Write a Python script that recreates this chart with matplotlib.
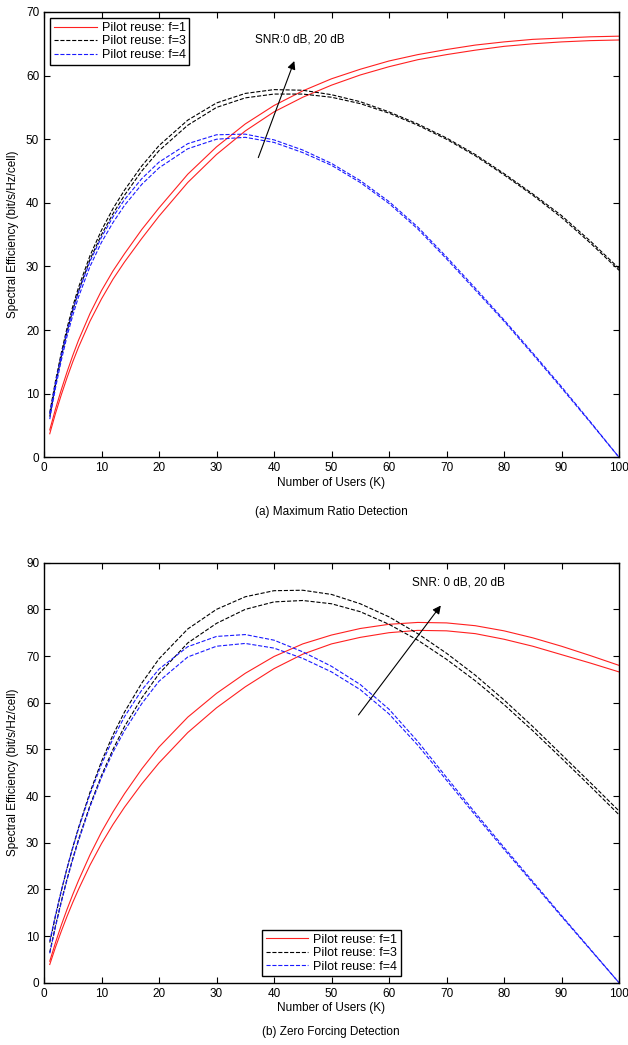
import matplotlib
matplotlib.use("Agg")
import matplotlib.pyplot as plt

plt.rcParams["font.family"] = ["Liberation Sans", "DejaVu Sans"]

# number of users K (sample points)
K = [1, 2, 3, 4, 5, 6, 8, 10, 12, 14, 17, 20, 25, 30, 35, 40, 45, 50,
     55, 60, 65, 70, 75, 80, 85, 90, 95, 100]

# (a) Maximum ratio detection, spectral efficiency (bit/s/Hz/cell)
mr_f1_20db = [4.3, 7.6, 10.6, 13.4, 16.0, 18.4, 22.6, 26.2, 29.3, 32.0, 35.8, 39.2, 44.5, 48.8, 52.4,
              55.3, 57.6, 59.5, 61.0, 62.3, 63.3, 64.1, 64.8, 65.3, 65.7, 65.9, 66.1, 66.2]
mr_f1_0db = [3.7, 6.9, 9.8, 12.5, 15.0, 17.3, 21.4, 24.9, 28.0, 30.7, 34.4, 37.9, 43.2, 47.6, 51.3,
             54.3, 56.6, 58.5, 60.1, 61.4, 62.5, 63.3, 64.0, 64.6, 65.0, 65.3, 65.5, 65.6]
mr_f3_20db = [7.0, 12.0, 16.4, 20.3, 23.7, 26.7, 31.7, 35.7, 39.1, 42.0, 45.8, 49.0, 53.0, 55.7, 57.2,
              57.8, 57.7, 57.0, 55.9, 54.3, 52.4, 50.2, 47.6, 44.6, 41.4, 38.0, 34.0, 29.7]
mr_f3_0db = [6.4, 11.4, 15.8, 19.7, 23.1, 26.1, 31.1, 35.0, 38.3, 41.2, 45.0, 48.2, 52.2, 55.0, 56.5,
             57.1, 57.1, 56.6, 55.6, 54.1, 52.2, 50.0, 47.4, 44.4, 41.2, 37.7, 33.7, 29.4]
mr_f4_20db = [6.8, 11.7, 16.0, 19.8, 23.1, 26.0, 30.8, 34.6, 37.8, 40.5, 43.8, 46.4, 49.3, 50.7, 50.8,
              49.9, 48.3, 46.2, 43.5, 40.2, 36.2, 31.5, 26.6, 21.6, 16.4, 11.1, 5.6, 0.0]
mr_f4_0db = [6.0, 10.9, 15.2, 19.0, 22.3, 25.2, 30.0, 33.8, 36.9, 39.6, 42.9, 45.5, 48.5, 50.0, 50.3,
             49.5, 47.9, 45.9, 43.2, 39.9, 35.9, 31.2, 26.3, 21.4, 16.2, 10.9, 5.5, 0.0]

# (b) Zero forcing detection
zf_f1_20db = [4.6, 8.6, 12.3, 15.7, 18.9, 21.9, 27.4, 32.3, 36.6, 40.5, 45.8, 50.5, 56.9, 62.0, 66.3,
              69.9, 72.6, 74.5, 75.9, 76.8, 77.2, 77.1, 76.5, 75.4, 73.9, 72.1, 70.1, 68.0]
zf_f1_0db = [3.9, 7.6, 11.0, 14.2, 17.2, 20.0, 25.2, 29.8, 33.9, 37.6, 42.6, 47.1, 53.6, 58.9, 63.4,
             67.3, 70.4, 72.6, 74.0, 75.0, 75.5, 75.4, 74.8, 73.6, 72.1, 70.3, 68.5, 66.6]
zf_f3_20db = [8.6, 14.3, 19.6, 24.5, 29.0, 33.2, 40.8, 47.4, 53.1, 58.0, 64.2, 69.4, 75.8, 80.0, 82.7,
              84.0, 84.1, 83.2, 81.2, 78.4, 74.8, 70.6, 65.9, 60.6, 54.9, 48.9, 42.9, 36.8]
zf_f3_0db = [6.5, 12.2, 17.4, 22.2, 26.6, 30.7, 38.0, 44.4, 50.0, 54.9, 61.0, 66.2, 72.8, 77.0, 80.0,
             81.6, 81.9, 81.2, 79.5, 76.8, 73.4, 69.3, 64.7, 59.6, 54.0, 48.1, 42.1, 36.0]
zf_f4_20db = [8.9, 14.5, 19.7, 24.5, 28.9, 33.0, 40.4, 46.8, 52.3, 57.0, 62.7, 67.2, 72.0, 74.2, 74.6,
              73.4, 70.9, 67.8, 63.9, 58.6, 51.7, 44.0, 36.4, 29.0, 21.7, 14.4, 7.2, 0.0]
zf_f4_0db = [6.3, 12.0, 17.2, 22.0, 26.4, 30.4, 37.7, 44.0, 49.4, 54.0, 59.8, 64.6, 69.8, 72.1, 72.7,
             71.7, 69.5, 66.6, 62.8, 57.6, 50.9, 43.4, 35.9, 28.6, 21.4, 14.2, 7.1, 0.0]

labels = ["Pilot reuse: f=1", "Pilot reuse: f=3", "Pilot reuse: f=4"]
colors = ["#ff2020", "#000000", "#1a1aff"]
styles = ["-", "--", "--"]


def draw_panel(ax, pairs, ymax, legend_loc, snr_text, arrow_from, arrow_to, text_xy):
    for (hi, lo), lab, c, ls in zip(pairs, labels, colors, styles):
        ax.plot(K, hi, color=c, linestyle=ls, linewidth=0.8, label=lab)
        ax.plot(K, lo, color=c, linestyle=ls, linewidth=0.8)

    ax.set_xlim(0, 100)
    ax.set_ylim(0, ymax)
    ax.set_xticks(range(0, 101, 10))
    ax.set_yticks(range(0, ymax + 1, 10))
    ax.tick_params(direction="in", top=True, right=True, labelsize=8.5, length=4, width=0.8)
    for s in ax.spines.values():
        s.set_linewidth(1.0)
    ax.set_xlabel("Number of Users (K)", fontsize=8.5, labelpad=2)
    ax.set_ylabel("Spectral Efficiency (bit/s/Hz/cell)", fontsize=8.5, labelpad=5)

    leg = ax.legend(loc=legend_loc, fontsize=9, handlelength=3.4, fancybox=False,
                    edgecolor="black", framealpha=1, borderpad=0.3, labelspacing=0.12,
                    handletextpad=0.4)
    leg.get_frame().set_linewidth(1.0)

    ax.annotate("", xy=arrow_to, xytext=arrow_from,
                arrowprops=dict(arrowstyle="-|>", color="black", lw=0.8, mutation_scale=12))
    ax.text(text_xy[0], text_xy[1], snr_text, fontsize=8.5, ha="center", va="center")


fig = plt.figure(figsize=(6.28, 10.45), dpi=100)

ax1 = fig.add_axes([44 / 628, 1 - 457.3 / 1045, 575 / 628, 445.3 / 1045])
draw_panel(ax1,
           [(mr_f1_20db, mr_f1_0db), (mr_f3_20db, mr_f3_0db), (mr_f4_20db, mr_f4_0db)],
           70, "upper left", "SNR:0 dB, 20 dB",
           (37.1, 46.7), (43.7, 62.7), (44.5, 65.6))

ax2 = fig.add_axes([44 / 628, 1 - 982.7 / 1045, 575 / 628, 420 / 1045])
draw_panel(ax2,
           [(zf_f1_20db, zf_f1_0db), (zf_f3_20db, zf_f3_0db), (zf_f4_20db, zf_f4_0db)],
           90, "lower center", "SNR: 0 dB, 20 dB",
           (54.4, 56.9), (69.3, 81.3), (72.0, 85.8))

fig.text(331 / 628, 1 - 512 / 1045, "(a) Maximum Ratio Detection", fontsize=8.5, ha="center", va="center")
fig.text(331 / 628, 1 - 1032 / 1045, "(b) Zero Forcing Detection", fontsize=8.5, ha="center", va="center")

fig.savefig("out.png", dpi=100)
